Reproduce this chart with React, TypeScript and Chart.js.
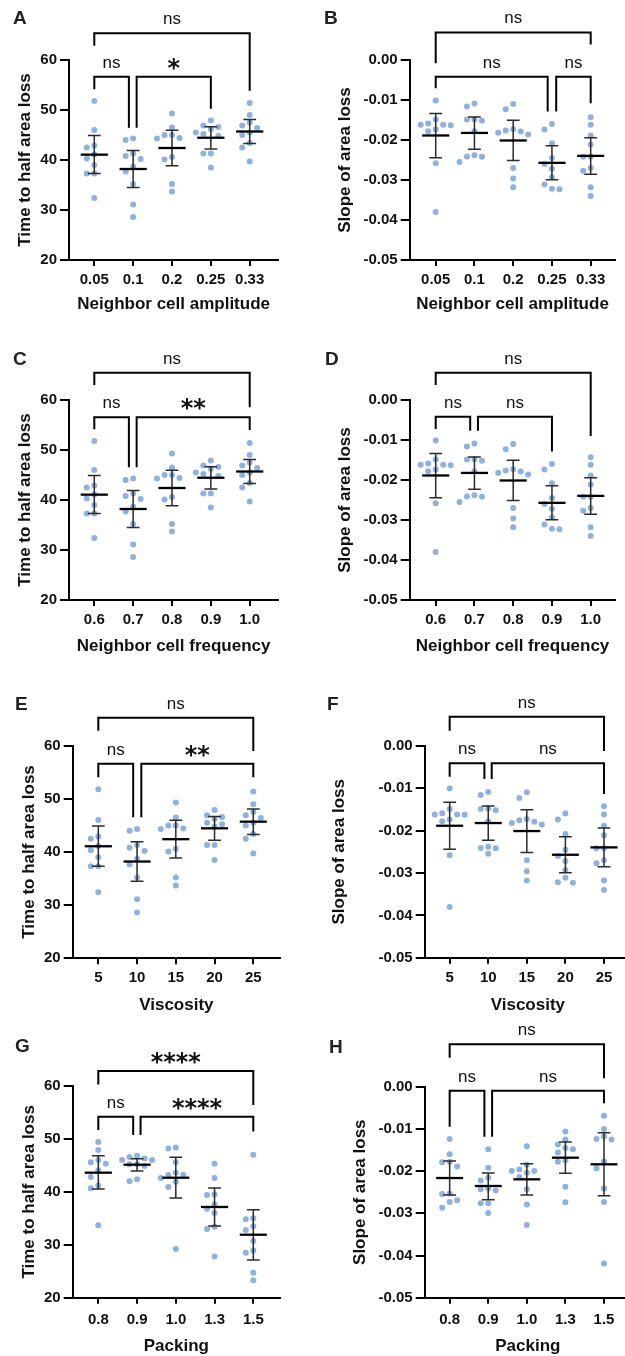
import React, { useEffect, useRef } from "react";
import { Chart, registerables } from "chart.js";

Chart.register(...registerables);

const FONT = '"Liberation Sans", Arial, Helvetica, sans-serif';
const STAR_FONT = '"DejaVu Sans", sans-serif';
const DOT = "rgb(143,177,222)";

// ---------- category / tick labels ----------
const amplitudeLabels = ["0.05", "0.1", "0.2", "0.25", "0.33"];
const frequencyLabels = ["0.6", "0.7", "0.8", "0.9", "1.0"];
const viscosityLabels = ["5", "10", "15", "20", "25"];
const packingLabels = ["0.8", "0.9", "1.0", "1.3", "1.5"];

const timeTicks = [20, 30, 40, 50, 60];
const timeTickLabels = ["20", "30", "40", "50", "60"];
const slopeTicks = [-0.05, -0.04, -0.03, -0.02, -0.01, 0];
const slopeTickLabels = ["-0.05", "-0.04", "-0.03", "-0.02", "-0.01", "0.00"];

// ---------- data: time to half area loss (A, C, E) ----------
const timeGroups: number[][] = [
  [51.8, 46.0, 42.9, 42.5, 41.1, 40.3, 39.0, 37.3, 37.3, 32.4],
  [44.3, 44.0, 41.3, 40.8, 40.2, 38.7, 37.7, 35.2, 31.1, 28.6],
  [49.3, 46.5, 45.0, 45.0, 44.4, 44.3, 40.6, 40.1, 35.2, 33.7],
  [47.9, 46.9, 46.6, 46.2, 45.5, 45.2, 44.8, 41.3, 41.3, 38.5],
  [51.4, 49.0, 47.5, 46.9, 46.4, 45.5, 45.0, 43.4, 42.5, 39.7],
];
const timeMeans = [41.07, 38.2, 42.4, 44.45, 45.7];
const timeCILow = [37.3, 34.5, 38.85, 42.2, 43.3];
const timeCIHigh = [44.9, 41.9, 45.95, 46.65, 48.1];

// ---------- data: slope of area loss (B, D, F) ----------
const slopeGroups: number[][] = [
  [-0.0101, -0.0149, -0.0159, -0.0163, -0.0162, -0.0162, -0.0174, -0.0178, -0.0258, -0.038],
  [-0.0116, -0.0109, -0.0149, -0.0152, -0.0148, -0.0178, -0.0238, -0.0241, -0.0242, -0.0255],
  [-0.0123, -0.011, -0.0182, -0.0173, -0.0186, -0.0176, -0.0179, -0.027, -0.0296, -0.0318],
  [-0.016, -0.0174, -0.0208, -0.0245, -0.026, -0.0272, -0.0293, -0.0311, -0.0323, -0.0322],
  [-0.0143, -0.0162, -0.0189, -0.0211, -0.0242, -0.0242, -0.0277, -0.027, -0.0318, -0.034],
];
const slopeMeans = [-0.01887, -0.01823, -0.02012, -0.02571, -0.02397];
const slopeCILow = [-0.02444, -0.02231, -0.02515, -0.02995, -0.02854];
const slopeCIHigh = [-0.01335, -0.01422, -0.01509, -0.02146, -0.01941];

// ---------- data: packing (G) ----------
const packingTimeGroups: number[][] = [
  [49.4, 47.9, 46.0, 45.6, 45.3, 44.1, 42.8, 41.2, 40.7, 33.7],
  [46.8, 46.6, 46.3, 46.0, 46.0, 45.2, 45.2, 44.9, 42.4, 42.0],
  [48.4, 48.2, 45.6, 43.6, 43.2, 43.2, 42.6, 41.9, 40.9, 29.2],
  [45.3, 42.6, 39.5, 39.4, 37.6, 36.8, 36.0, 33.4, 33.0, 27.8],
  [47.0, 35.0, 34.8, 33.5, 32.8, 30.7, 28.9, 28.5, 24.7, 23.3],
];
const packingTimeMeans = [43.62, 45.13, 42.67, 37.14, 31.9];
const packingTimeCILow = [40.54, 43.94, 38.84, 33.55, 27.12];
const packingTimeCIHigh = [46.83, 46.27, 46.52, 40.73, 36.63];

// ---------- data: packing (H) ----------
const packingSlopeGroups: number[][] = [
  [-0.0124, -0.016, -0.0178, -0.0179, -0.0189, -0.0253, -0.0254, -0.0269, -0.0273, -0.0287],
  [-0.0148, -0.0192, -0.0216, -0.0222, -0.0241, -0.0243, -0.0246, -0.0276, -0.0276, -0.0299],
  [-0.0141, -0.0185, -0.0196, -0.02, -0.02, -0.0204, -0.0214, -0.0243, -0.0279, -0.0328],
  [-0.0106, -0.0125, -0.0137, -0.0145, -0.0148, -0.0156, -0.0174, -0.0178, -0.0237, -0.0274],
  [-0.0069, -0.01, -0.0118, -0.0124, -0.0125, -0.0177, -0.0193, -0.0241, -0.0273, -0.0419],
];
const packingSlopeMeans = [-0.02164, -0.02353, -0.02195, -0.01682, -0.01839];
const packingSlopeCILow = [-0.02566, -0.02678, -0.02566, -0.02053, -0.02583];
const packingSlopeCIHigh = [-0.0176, -0.02045, -0.01825, -0.01311, -0.0109];

// ---------- significance brackets (x in category position, y in data units) ----------
type Bracket = { from: number; to: number; line: number; fromEnd: number; toEnd: number; label: string };

const bracketsA: Bracket[] = [
  { from: 1, to: 5, line: 65.33, fromEnd: 62.87, toEnd: 53.87, label: "ns" },
  { from: 1, to: 1.89, line: 56.67, fromEnd: 54.13, toEnd: 46.47, label: "ns" },
  { from: 2.09, to: 4, line: 56.67, fromEnd: 46.47, toEnd: 50.27, label: "*" },
];
const bracketsB: Bracket[] = [
  { from: 1, to: 5, line: 0.0069, fromEnd: -0.0008, toEnd: 0.0039, label: "ns" },
  { from: 1, to: 3.89, line: -0.00417, fromEnd: -0.00708, toEnd: -0.0129, label: "ns" },
  { from: 4.11, to: 5, line: -0.00417, fromEnd: -0.0129, toEnd: -0.0108, label: "ns" },
];
const bracketsC: Bracket[] = [
  { from: 1, to: 5, line: 65.47, fromEnd: 63.0, toEnd: 58.53, label: "ns" },
  { from: 1, to: 1.89, line: 56.53, fromEnd: 54.13, toEnd: 46.53, label: "ns" },
  { from: 2.09, to: 5, line: 56.53, fromEnd: 46.53, toEnd: 54.0, label: "**" },
];
const bracketsD: Bracket[] = [
  { from: 1, to: 5, line: 0.0068, fromEnd: 0.00375, toEnd: -0.009, label: "ns" },
  { from: 1, to: 1.89, line: -0.00417, fromEnd: -0.00725, toEnd: -0.0077, label: "ns" },
  { from: 2.09, to: 4, line: -0.00417, fromEnd: -0.0077, toEnd: -0.0129, label: "ns" },
];
const bracketsE: Bracket[] = [
  { from: 1, to: 5, line: 65.27, fromEnd: 62.82, toEnd: 59.0, label: "ns" },
  { from: 1, to: 1.9, line: 56.61, fromEnd: 54.05, toEnd: 46.53, label: "ns" },
  { from: 2.11, to: 5, line: 56.61, fromEnd: 46.53, toEnd: 54.05, label: "**" },
];
const bracketsF: Bracket[] = [
  { from: 1, to: 5, line: 0.00684, fromEnd: 0.00354, toEnd: -0.00125, label: "ns" },
  { from: 1, to: 1.9, line: -0.00415, fromEnd: -0.0073, toEnd: -0.00785, label: "ns" },
  { from: 2.09, to: 5, line: -0.00415, fromEnd: -0.00785, toEnd: -0.0114, label: "ns" },
];
const bracketsG: Bracket[] = [
  { from: 1, to: 5, line: 62.83, fromEnd: 60.3, toEnd: 56.41, label: "****" },
  { from: 1, to: 1.9, line: 54.2, fromEnd: 51.69, toEnd: 50.74, label: "ns" },
  { from: 2.09, to: 5, line: 54.2, fromEnd: 50.74, toEnd: 51.4, label: "****" },
];
const bracketsH: Bracket[] = [
  { from: 1, to: 5, line: 0.01005, fromEnd: 0.00687, toEnd: 0.002, label: "ns" },
  { from: 1, to: 1.9, line: -0.00095, fromEnd: -0.00948, toEnd: -0.01185, label: "ns" },
  { from: 2.1, to: 5, line: -0.00095, fromEnd: -0.01185, toEnd: -0.00393, label: "ns" },
];

// ---------- panel layout ----------
type Panel = {
  letter: string;
  letterX: number;
  letterY: number;
  left: number;
  top: number;
  width: number;
  height: number;
  area: { l: number; t: number; r: number; b: number };
  xMin: number;
  xMax: number;
  xLabels: string[];
  xTitle: string;
  xTitleY: number;
  xTickPad: number;
  yTitle: string;
  yTitleX: number;
  yMin: number;
  yMax: number;
  yTicks: number[];
  yTickLabels: string[];
  groups: number[][];
  means: number[];
  lows: number[];
  highs: number[];
  brackets: Bracket[];
};

const timeSet = { yMin: 20, yMax: 60, yTicks: timeTicks, yTickLabels: timeTickLabels, yTitle: "Time to half area loss", groups: timeGroups, means: timeMeans, lows: timeCILow, highs: timeCIHigh };
const slopeSet = { yMin: -0.05, yMax: 0, yTicks: slopeTicks, yTickLabels: slopeTickLabels, yTitle: "Slope of area loss", groups: slopeGroups, means: slopeMeans, lows: slopeCILow, highs: slopeCIHigh };

const panels: Panel[] = [
  { letter: "A", letterX: 13, letterY: 24, left: 0, top: 0, width: 312, height: 330, area: { l: 69, t: 60, r: 278.3, b: 260 }, xMin: 0.349, xMax: 5.736, xLabels: amplitudeLabels, xTitle: "Neighbor cell amplitude", xTitleY: 304.4, xTickPad: 5, yTitleX: 25.8, ...timeSet, brackets: bracketsA },
  { letter: "B", letterX: 324, letterY: 23.5, left: 312, top: 0, width: 322, height: 330, area: { l: 409.7, t: 60, r: 615.3, b: 260 }, xMin: 0.329, xMax: 5.635, xLabels: amplitudeLabels, xTitle: "Neighbor cell amplitude", xTitleY: 304.4, xTickPad: 5, yTitleX: 345, ...slopeSet, brackets: bracketsB },
  { letter: "C", letterX: 13, letterY: 365, left: 0, top: 330, width: 312, height: 335, area: { l: 69, t: 400, r: 278.3, b: 600 }, xMin: 0.349, xMax: 5.736, xLabels: frequencyLabels, xTitle: "Neighbor cell frequency", xTitleY: 646.1, xTickPad: 5, yTitleX: 25.8, ...timeSet, brackets: bracketsC },
  { letter: "D", letterX: 325, letterY: 365, left: 312, top: 330, width: 322, height: 335, area: { l: 409.7, t: 400, r: 615.3, b: 600 }, xMin: 0.329, xMax: 5.635, xLabels: frequencyLabels, xTitle: "Neighbor cell frequency", xTitleY: 646.1, xTickPad: 5, yTitleX: 345, ...slopeSet, brackets: bracketsD },
  { letter: "E", letterX: 15, letterY: 710, left: 0, top: 665, width: 312, height: 360, area: { l: 72.7, t: 745.7, r: 280, b: 958.2 }, xMin: 0.339, xMax: 5.689, xLabels: viscosityLabels, xTitle: "Viscosity", xTitleY: 1005.3, xTickPad: 5, yTitleX: 29, ...timeSet, brackets: bracketsE },
  { letter: "F", letterX: 327, letterY: 710, left: 312, top: 665, width: 322, height: 360, area: { l: 424.7, t: 745.7, r: 631.4, b: 957.8 }, xMin: 0.353, xMax: 5.7, xLabels: viscosityLabels, xTitle: "Viscosity", xTitleY: 1005.3, xTickPad: 5, yTitleX: 339, ...slopeSet, brackets: bracketsF },
  { letter: "G", letterX: 15, letterY: 1052, left: 0, top: 1020, width: 312, height: 336, area: { l: 72.7, t: 1086, r: 280, b: 1297.7 }, xMin: 0.339, xMax: 5.689, xLabels: packingLabels, xTitle: "Packing", xTitleY: 1346, xTickPad: 7, yTitleX: 29, yMin: 20, yMax: 60, yTicks: timeTicks, yTickLabels: timeTickLabels, yTitle: "Time to half area loss", groups: packingTimeGroups, means: packingTimeMeans, lows: packingTimeCILow, highs: packingTimeCIHigh, brackets: bracketsG },
  { letter: "H", letterX: 329, letterY: 1053, left: 312, top: 1020, width: 322, height: 336, area: { l: 424.7, t: 1086.7, r: 631.4, b: 1297.7 }, xMin: 0.353, xMax: 5.7, xLabels: packingLabels, xTitle: "Packing", xTitleY: 1346, xTickPad: 7, yTitleX: 360, yMin: -0.05, yMax: 0, yTicks: slopeTicks, yTickLabels: slopeTickLabels, yTitle: "Slope of area loss", groups: packingSlopeGroups, means: packingSlopeMeans, lows: packingSlopeCILow, highs: packingSlopeCIHigh, brackets: bracketsH },
];

// beeswarm-style horizontal spreading computed in pixel space through the chart's scales
function swarm(groups: number[][], xs: any, ys: any) {
  const step = 7.5;
  const minDist = 7.2;
  const out: { x: number; y: number }[] = [];
  groups.forEach((grp, gi) => {
    const cx = xs.getPixelForValue(gi + 1);
    const placed: { px: number; py: number }[] = [];
    const sorted = [...grp].sort((a, b) => b - a);
    for (const v of sorted) {
      const py = ys.getPixelForValue(v);
      let off = 0;
      for (let k = 0; k < 30; k++) {
        const m = k === 0 ? 0 : k % 2 === 1 ? -Math.ceil(k / 2) : Math.ceil(k / 2);
        off = m * step;
        const ok = placed.every((p) => Math.hypot(p.px - (cx + off), p.py - py) >= minDist);
        if (ok) break;
      }
      placed.push({ px: cx + off, py });
      out.push({ x: xs.getValueForPixel(cx + off), y: v });
    }
  });
  return out;
}

function makeDecor(p: Panel) {
  return {
    id: "decor" + p.letter,
    afterDatasetsDraw(chart: any) {
      const { ctx } = chart;
      const xs = chart.scales.x;
      const ys = chart.scales.y;
      ctx.save();
      p.means.forEach((m, i) => {
        const c = i + 1;
        const cx = xs.getPixelForValue(c);
        const capL = xs.getPixelForValue(c - 0.165);
        const capR = xs.getPixelForValue(c + 0.165);
        const mL = xs.getPixelForValue(c - 0.35);
        const mR = xs.getPixelForValue(c + 0.35);
        const yl = ys.getPixelForValue(p.lows[i]);
        const yh = ys.getPixelForValue(p.highs[i]);
        const ym = ys.getPixelForValue(m);
        ctx.strokeStyle = "#2b2b2b";
        ctx.lineWidth = 1.5;
        ctx.beginPath();
        ctx.moveTo(cx, yh);
        ctx.lineTo(cx, yl);
        ctx.moveTo(capL, yh);
        ctx.lineTo(capR, yh);
        ctx.moveTo(capL, yl);
        ctx.lineTo(capR, yl);
        ctx.stroke();
        ctx.strokeStyle = "#000";
        ctx.lineWidth = 2.3;
        ctx.beginPath();
        ctx.moveTo(mL, ym);
        ctx.lineTo(mR, ym);
        ctx.stroke();
      });
      ctx.restore();
    },
    afterDraw(chart: any) {
      const { ctx } = chart;
      const xs = chart.scales.x;
      const ys = chart.scales.y;
      ctx.save();
      ctx.strokeStyle = "#000";
      ctx.fillStyle = "#111";
      ctx.lineWidth = 2;
      ctx.lineJoin = "miter";
      for (const b of p.brackets) {
        const x1 = xs.getPixelForValue(b.from);
        const x2 = xs.getPixelForValue(b.to);
        const yl = ys.getPixelForValue(b.line);
        const y1 = ys.getPixelForValue(b.fromEnd);
        const y2 = ys.getPixelForValue(b.toEnd);
        ctx.beginPath();
        ctx.moveTo(x1, y1);
        ctx.lineTo(x1, yl);
        ctx.lineTo(x2, yl);
        ctx.lineTo(x2, y2);
        ctx.stroke();
        const mx = (x1 + x2) / 2;
        ctx.textAlign = "center";
        ctx.textBaseline = "alphabetic";
        if (b.label === "ns") {
          ctx.font = `17px ${FONT}`;
          ctx.fillText("ns", mx, yl - 9);
        } else {
          const n = b.label.length;
          ctx.font = `bold 24px ${STAR_FONT}`;
          for (let k = 0; k < n; k++) {
            ctx.fillText("*", mx + (k - (n - 1) / 2) * 12.5, yl - 1);
          }
        }
      }
      ctx.fillStyle = "#222";
      ctx.textAlign = "left";
      ctx.textBaseline = "alphabetic";
      ctx.font = `bold 19px ${FONT}`;
      ctx.fillText(p.letter, p.letterX - p.left, p.letterY - p.top);
      ctx.restore();
    },
  };
}

function PanelChart({ p }: { p: Panel }) {
  const ref = useRef<HTMLCanvasElement>(null);
  useEffect(() => {
    const canvas = ref.current;
    if (!canvas) return;
    const yW = p.area.l - p.left;
    const padTop = p.area.t - p.top;
    const padRight = p.left + p.width - p.area.r;
    const xH = p.top + p.height - p.area.b;
    const xTitlePad = p.top + p.height - p.xTitleY - 10.2;
    const yTitlePad = p.yTitleX - p.left - 10.2;
    const initial = p.groups.flatMap((g, i) => g.map((v) => ({ x: i + 1, y: v })));
    const chart: any = new Chart(canvas, {
      type: "scatter",
      data: {
        datasets: [
          {
            data: initial,
            backgroundColor: DOT,
            borderWidth: 0,
            pointRadius: 3,
            pointHoverRadius: 3,
          },
        ],
      },
      options: {
        responsive: false,
        animation: false,
        events: [],
        layout: { padding: { left: 0, top: padTop, right: padRight, bottom: 0 } },
        plugins: { legend: { display: false }, tooltip: { enabled: false } },
        scales: {
          x: {
            type: "linear",
            min: p.xMin,
            max: p.xMax,
            afterBuildTicks: (s: any) => {
              s.ticks = p.xLabels.map((_, i) => ({ value: i + 1 }));
            },
            afterFit: (s: any) => {
              s.height = xH;
            },
            ticks: {
              autoSkip: false,
              maxRotation: 0,
              minRotation: 0,
              padding: p.xTickPad,
              color: "#111",
              font: { family: FONT, size: 15, weight: "bold" },
              callback: (v: any) => p.xLabels[Math.round(Number(v)) - 1] ?? "",
            },
            grid: { drawOnChartArea: false, drawTicks: true, tickLength: 6, tickWidth: 2, tickColor: "#000", color: "#000", lineWidth: 2 },
            border: { display: true, color: "#000", width: 2 },
            title: {
              display: true,
              text: p.xTitle,
              color: "#111",
              font: { family: FONT, size: 17, weight: "bold" },
              padding: { top: 0, bottom: xTitlePad },
            },
          },
          y: {
            type: "linear",
            min: p.yMin,
            max: p.yMax,
            afterBuildTicks: (s: any) => {
              s.ticks = p.yTicks.map((v) => ({ value: v }));
            },
            afterFit: (s: any) => {
              s.width = yW;
            },
            ticks: {
              padding: 3,
              color: "#111",
              font: { family: FONT, size: 15, weight: "bold" },
              callback: (v: any) => {
                const n = Number(v);
                let best = 0;
                p.yTicks.forEach((t, i) => {
                  if (Math.abs(t - n) < Math.abs(p.yTicks[best] - n)) best = i;
                });
                return p.yTickLabels[best];
              },
            },
            grid: { drawOnChartArea: false, drawTicks: true, tickLength: 9, tickWidth: 2, tickColor: "#000", color: "#000", lineWidth: 2 },
            border: { display: true, color: "#000", width: 2 },
            title: {
              display: true,
              text: p.yTitle,
              color: "#111",
              font: { family: FONT, size: 17, weight: "bold" },
              padding: { top: yTitlePad, bottom: 0 },
            },
          },
        },
      },
      plugins: [makeDecor(p)],
    } as any);
    chart.data.datasets[0].data = swarm(p.groups, chart.scales.x, chart.scales.y);
    chart.update("none");
    return () => chart.destroy();
  }, [p]);
  return (
    <canvas
      ref={ref}
      width={p.width}
      height={p.height}
      style={{ position: "absolute", left: p.left, top: p.top, width: p.width, height: p.height }}
    />
  );
}

export default function App() {
  return (
    <div
      style={{
        position: "absolute",
        left: 0,
        top: 0,
        width: 625,
        height: 1356,
        overflow: "hidden",
        background: "#fff",
      }}
    >
      {panels.map((p) => (
        <PanelChart key={p.letter} p={p} />
      ))}
    </div>
  );
}
